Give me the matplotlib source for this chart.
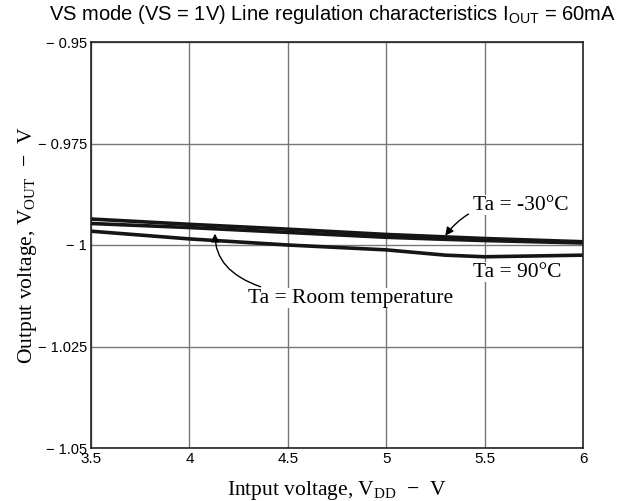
import matplotlib
matplotlib.use("Agg")
import matplotlib.pyplot as plt

plt.rcParams["mathtext.fontset"] = "custom"
plt.rcParams["mathtext.rm"] = "Liberation Serif"
plt.rcParams["mathtext.sf"] = "Liberation Sans"

vdd = [3.5, 4.0, 4.5, 5.0, 5.3, 5.5, 6.0]
v_m30 = [-0.9936, -0.9949, -0.9961, -0.9974, -0.9980, -0.9984, -0.9992]
v_room = [-0.9947, -0.9957, -0.9969, -0.9981, -0.9986, -0.9989, -0.9995]
v_90 = [-0.9966, -0.9985, -1.0000, -1.0012, -1.0025, -1.0029, -1.0025]

xticks = [3.5, 4, 4.5, 5, 5.5, 6]
xticklabels = ["3.5", "4", "4.5", "5", "5.5", "6"]
yticks = [-0.95, -0.975, -1.0, -1.025, -1.05]
yticklabels = ["\u2212 0.95", "\u2212 0.975", "\u2212 1", "\u2212 1.025", "\u2212 1.05"]

fig = plt.figure(figsize=(6.21, 5.01), dpi=100)
ax = fig.add_axes([91 / 621, 1 - 448 / 501, 492 / 621, 406 / 501])

for v in (v_m30, v_room, v_90):
    ax.plot(vdd, v, color="#151515", lw=2.6, solid_capstyle="butt")

ax.set_xlim(3.5, 6)
ax.set_ylim(-1.05, -0.95)
ax.set_xticks(xticks)
ax.set_xticklabels(xticklabels, family="Liberation Sans", fontsize=11)
ax.set_yticks(yticks)
ax.set_yticklabels(yticklabels, family="Liberation Sans", fontsize=10.5)
ax.tick_params(length=0, pad=3)
ax.grid(True, color="#777777", lw=1.0)
for s in ax.spines.values():
    s.set_linewidth(1.2)
    s.set_color("#222222")

ax.set_xlabel("Intput voltage, V$_\\mathrm{DD}$  \u2212  V",
              family="Liberation Serif", fontsize=15.5, labelpad=9)
ax.set_ylabel("Output voltage, V$_\\mathrm{OUT}$  \u2212  V",
              family="Liberation Serif", fontsize=15.5, labelpad=-1)
fig.text(0.535, 0.972, "VS mode (VS = 1V) Line regulation characteristics I$_\\mathsf{OUT}$ = 60mA",
         family="Liberation Sans", fontsize=14.5, ha="center", va="center")

box = dict(facecolor="white", edgecolor="none", pad=0.5)
ax.annotate("Ta = -30\u00b0C", xy=(5.30, -0.9977), xytext=(5.44, -0.9902),
            family="Liberation Serif", fontsize=15.5, va="center", ha="left", bbox=box,
            arrowprops=dict(arrowstyle="-|>", color="black", lw=1.0, mutation_scale=12,
                            connectionstyle="arc3,rad=0.3", shrinkA=3, shrinkB=0))
ax.text(5.44, -1.0067, "Ta = 90\u00b0C", family="Liberation Serif", fontsize=15.5,
        va="center", ha="left", bbox=box)
ax.annotate("Ta = Room temperature", xy=(4.13, -0.9972), xytext=(4.30, -1.0131),
            family="Liberation Serif", fontsize=15.5, va="center", ha="left", bbox=box,
            arrowprops=dict(arrowstyle="-|>", color="black", lw=1.0, mutation_scale=12,
                            connectionstyle="angle3,angleA=0,angleB=90",
                            shrinkA=3, shrinkB=0))

fig.savefig("out.png", dpi=100)
